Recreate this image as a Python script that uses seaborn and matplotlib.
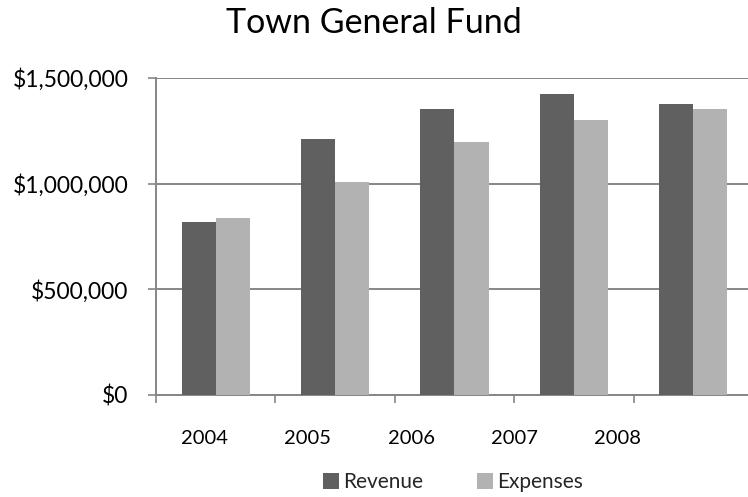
import numpy as np
import pandas as pd
import matplotlib
matplotlib.use("Agg")
import matplotlib.pyplot as plt
from matplotlib.ticker import FuncFormatter, FixedLocator
import seaborn as sns

years = ["2004", "2005", "2006", "2007", "2008"]
revenue = [820000, 1210000, 1355000, 1425000, 1376000]
expenses = [838000, 1010000, 1196000, 1303000, 1353000]
series_names = ["Revenue", "Expenses"]
y_ticks = [0, 500000, 1000000, 1500000]

df = pd.DataFrame({
    "Year": years * 2,
    "Amount": revenue + expenses,
    "Series": [series_names[0]] * len(years) + [series_names[1]] * len(years),
})

sns.set_theme(style="white")
plt.rcParams["font.family"] = ["Lato", "DejaVu Sans"]

W, H = 748, 497
fig = plt.figure(figsize=(W / 100, H / 100), dpi=100)
ax = fig.add_axes([156 / W, 1 - 395 / H, 597 / W, 317 / H])

palette = {"Revenue": "#606060", "Expenses": "#b2b2b2"}
sns.barplot(data=df, x="Year", y="Amount", hue="Series", order=years,
            hue_order=series_names, palette=palette, width=0.57, gap=0,
            linewidth=0, saturation=1, ax=ax, legend=True, zorder=3)

grid_c = "#868686"
ax.set_ylim(0, 1500000)
ax.set_xlim(-0.5, len(years) - 0.5)
ax.set_yticks(y_ticks)
ax.yaxis.set_major_formatter(FuncFormatter(lambda v, _: "${:,.0f}".format(v)))
ax.yaxis.grid(True, color=grid_c, linewidth=1.4)
ax.set_axisbelow(True)

# category boundaries carry the tick marks; labels sit on their own ticks
ax.xaxis.set_minor_locator(FixedLocator(np.arange(len(years) + 1) - 0.5))
label_pos = -0.09 + 0.863 * np.arange(len(years))
ax.set_xticks(label_pos)
ax.set_xticklabels(years)
ax.tick_params(axis="x", which="major", length=0, pad=25, labelsize=14.5, colors="black")
ax.tick_params(axis="x", which="minor", length=6, width=1.2, color=grid_c, direction="out", bottom=True)
ax.tick_params(axis="y", length=6, width=1.2, color=grid_c, pad=14, labelsize=16.5, labelcolor="black", left=True)

for side in ["top", "right"]:
    ax.spines[side].set_visible(False)
for side in ["left", "bottom"]:
    ax.spines[side].set_color(grid_c)
    ax.spines[side].set_linewidth(1.4)

ax.set_xlabel("")
ax.set_ylabel("")

fig.text(0.5, 1 - 23 / H, "Town General Fund", ha="center", va="center",
         fontsize=24.5, color="black")

handles, labels = ax.get_legend_handles_labels()
ax.legend(handles, labels, loc="center", bbox_to_anchor=(453 / W, 1 - 482 / H),
          bbox_transform=fig.transFigure, ncol=2, frameon=False, fontsize=15,
          handlelength=0.78, handleheight=0.78, handletextpad=0.2, columnspacing=2.6)

fig.savefig("out.png", dpi=100)
